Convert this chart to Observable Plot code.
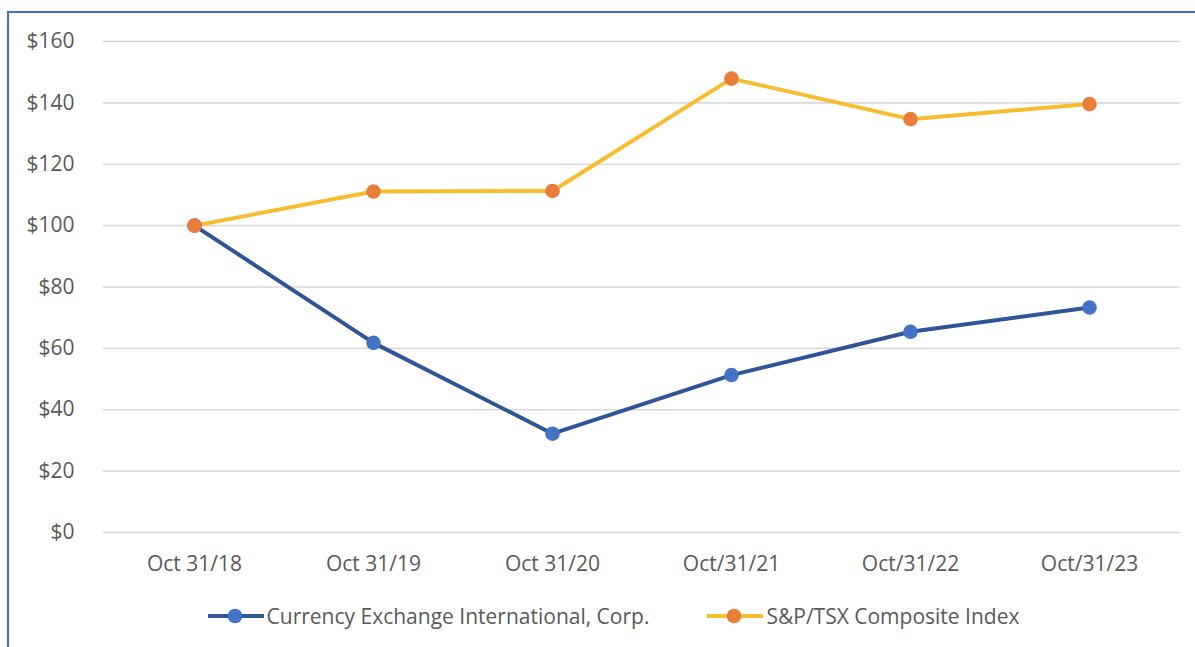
<!DOCTYPE html>
<html>
<head>
<meta charset="utf-8">
<script src="https://cdn.jsdelivr.net/npm/d3@7"></script>
<script src="https://cdn.jsdelivr.net/npm/@observablehq/plot@0.6"></script>
<style>
  html, body { margin: 0; padding: 0; background: #fff; }
  #wrap { position: relative; width: 1195px; height: 647px; overflow: hidden; font-family: "Open Sans", sans-serif; }
  #frameL { position: absolute; left: 7px; top: 11px; width: 2px; height: 640px; background: #4472C4; }
  #frameT { position: absolute; left: 7px; top: 11px; width: 1190px; height: 2px; background: #4472C4; }
  #chart { position: absolute; left: 0; top: 0; }
  #legend { position: absolute; left: 0; top: 600px; width: 1163px; padding-left: 32px; height: 32px; display: flex; justify-content: center; align-items: center; color: #595959; font-size: 21px; }
  .item { display: flex; align-items: center; }
  .item svg { margin-right: 3px; }
  .gap { width: 58px; }
</style>
</head>
<body>
<div id="wrap">
  <div id="chart"></div>
  <div id="frameL"></div>
  <div id="frameT"></div>
  <div id="legend"></div>
</div>
<script>
const dates = ["Oct 31/18", "Oct 31/19", "Oct 31/20", "Oct/31/21", "Oct/31/22", "Oct/31/23"];
const seriesNames = ["Currency Exchange International, Corp.", "S&P/TSX Composite Index"];
const cxiValues = [100, 61.8, 32.2, 51.3, 65.4, 73.3];
const tsxValues = [100, 111.1, 111.3, 147.9, 134.7, 139.6];
const yTicks = [0, 20, 40, 60, 80, 100, 120, 140, 160];

const lineColors = ["#2F5597", "#F6BE2F"];
const dotColors = ["#4472C4", "#E97D3A"];

const data = [];
[cxiValues, tsxValues].forEach((vals, s) => {
  vals.forEach((v, i) => data.push({date: dates[i], value: v, series: seriesNames[s]}));
});

const plot = Plot.plot({
  width: 1195,
  height: 590,
  marginLeft: 103,
  marginRight: 15,
  marginTop: 41,
  marginBottom: 58,
  style: {fontFamily: "'Open Sans', sans-serif", fontSize: "21px", color: "#595959", background: "transparent", overflow: "visible"},
  x: {type: "point", domain: dates, padding: 0.5, label: null, tickSize: 0, tickPadding: 24},
  y: {domain: [0, 160], ticks: yTicks, label: null, tickSize: 0, tickPadding: 29, tickFormat: d => "$" + d},
  marks: [
    Plot.ruleY(yTicks, {stroke: "#D9D9D9", strokeWidth: 1.7, strokeOpacity: 1}),
    Plot.line(data.filter(d => d.series === seriesNames[0]), {x: "date", y: "value", stroke: lineColors[0], strokeWidth: 4}),
    Plot.line(data.filter(d => d.series === seriesNames[1]), {x: "date", y: "value", stroke: lineColors[1], strokeWidth: 4}),
    Plot.dot(data.filter(d => d.series === seriesNames[0]), {x: "date", y: "value", fill: dotColors[0], r: 7.3}),
    Plot.dot(data.filter(d => d.series === seriesNames[1]), {x: "date", y: "value", fill: dotColors[1], r: 7.3})
  ]
});
plot.querySelectorAll("text").forEach(t => t.setAttribute("fill", "#595959"));
document.getElementById("chart").appendChild(plot);

const legend = document.getElementById("legend");
seriesNames.forEach((name, i) => {
  if (i > 0) { const g = document.createElement("div"); g.className = "gap"; legend.appendChild(g); }
  const item = document.createElement("div");
  item.className = "item";
  item.innerHTML = `<svg width="56" height="16"><line x1="0" y1="8" x2="56" y2="8" stroke="${lineColors[i]}" stroke-width="4"/><circle cx="27" cy="8" r="7.3" fill="${dotColors[i]}"/></svg><span>${name.replace("&", "&amp;")}</span>`;
  legend.appendChild(item);
});
</script>
</body>
</html>
